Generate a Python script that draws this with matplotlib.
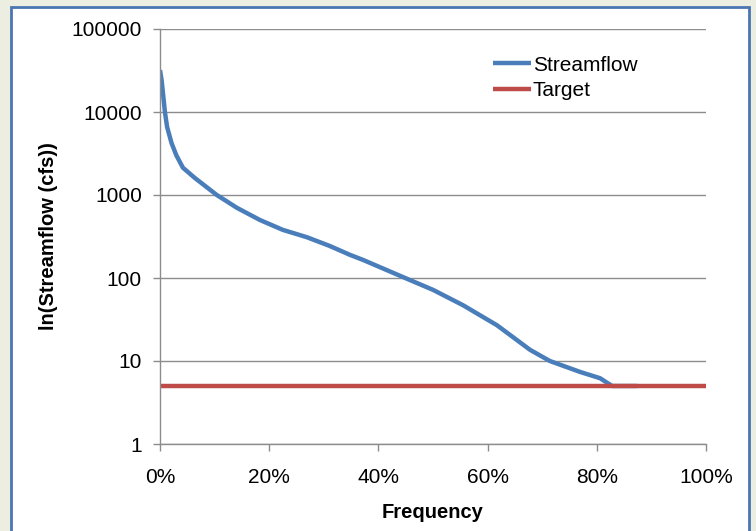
import matplotlib
matplotlib.use("Agg")
from matplotlib import pyplot as plt
from matplotlib.patches import Rectangle
import numpy as np

# flow duration curve (percent of time exceeded vs. streamflow)
freq = [0, 0.3, 0.5, 0.9, 1.3, 2.1, 3.0, 4.2, 6.4, 10.4, 14.1, 18.3, 22.5,
        26.9, 31.1, 34.8, 37.2, 44.9, 50.0, 55.5, 61.7, 67.8, 71.4, 76.9,
        80.6, 82.8, 87.4]
flow = [32000, 24000, 18000, 10000, 6600, 4250, 3000, 2130, 1600, 1000, 700,
        500, 380, 310, 243, 190, 165, 100, 72, 47, 27, 13.6, 10, 7.4, 6.2,
        5, 5]
target_freq = [0, 100]
target_flow = [5, 5]

y_ticks = [1, 10, 100, 1000, 10000, 100000]
y_labels = ["1", "10", "100", "1000", "10000", "100000"]
x_ticks = [0, 20, 40, 60, 80, 100]
x_labels = ["0%", "20%", "40%", "60%", "80%", "100%"]

plt.rcParams["font.family"] = ["Liberation Sans", "DejaVu Sans"]

W, H = 756, 531
fig = plt.figure(figsize=(W / 100, H / 100), dpi=100)
fig.patch.set_facecolor("#ECEEE2")

# white panel with blue frame
panel = Rectangle((11 / W, -0.05), (749 - 11) / W, 1.05 - 7 / H,
                  transform=fig.transFigure, facecolor="white",
                  edgecolor="#4A76B2", linewidth=2, zorder=-1)
fig.patches.append(panel)

ax = fig.add_axes([160 / W, 1 - 444 / H, (706 - 160) / W, (444 - 29) / H])
ax.set_facecolor("none")

ax.semilogy(freq, flow, color="#4A7EBB", linewidth=3.2,
            solid_joinstyle="round", solid_capstyle="butt", label="Streamflow")
ax.plot(target_freq, target_flow, color="#BE4B48", linewidth=3.2,
        solid_capstyle="butt", label="Target")

ax.set_xlim(0, 100)
ax.set_ylim(1, 100000)
ax.set_yticks(y_ticks)
ax.set_yticklabels(y_labels)
ax.yaxis.set_minor_locator(matplotlib.ticker.NullLocator())
ax.set_xticks(x_ticks)
ax.set_xticklabels(x_labels)

ax.grid(axis="y", color="#8C8C8C", linewidth=1)
ax.set_axisbelow(True)
for side in ("top", "right"):
    ax.spines[side].set_visible(False)
for side in ("left", "bottom"):
    ax.spines[side].set_color("#8C8C8C")
    ax.spines[side].set_linewidth(1)

ax.tick_params(axis="both", colors="#8C8C8C", labelcolor="black",
               labelsize=15, length=5, width=1)
ax.tick_params(axis="y", pad=8)
ax.tick_params(axis="x", pad=12)

ax.set_xlabel("Frequency", fontsize=14.5, fontweight="bold", labelpad=12)
ax.set_ylabel("ln(Streamflow (cfs))", fontsize=14.5, fontweight="bold",
              labelpad=10)

ax.legend(loc="upper left", bbox_to_anchor=(0.61, 0.936), frameon=False,
          fontsize=15, handlelength=1.8, handletextpad=0.1,
          labelspacing=0.3, borderaxespad=0, borderpad=0)

fig.savefig("out.png", dpi=100, facecolor=fig.get_facecolor())
